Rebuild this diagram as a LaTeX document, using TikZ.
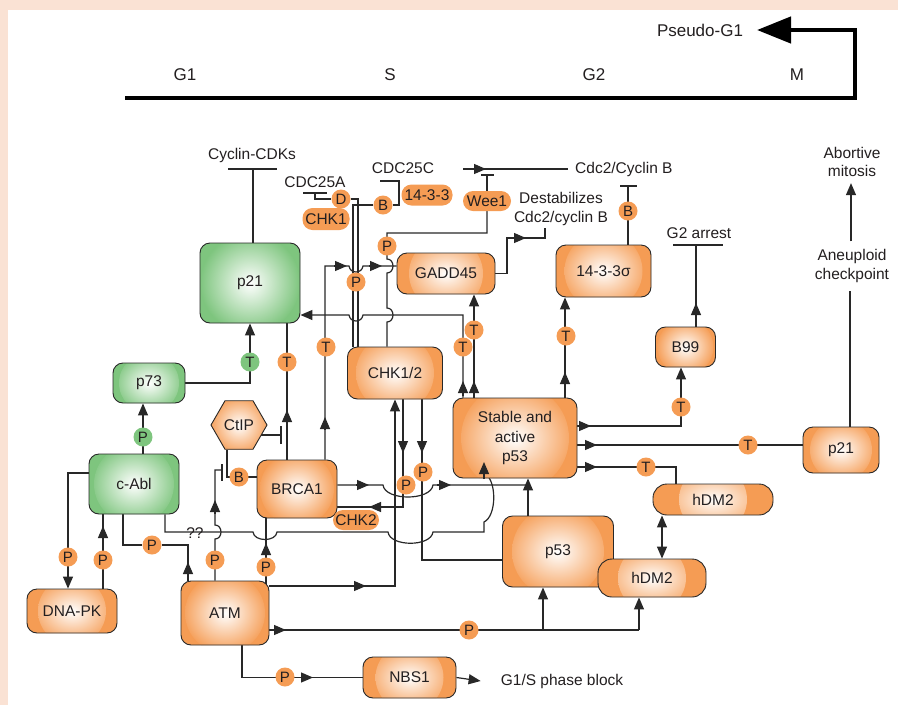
\documentclass[tikz,border=0pt]{standalone}
\usepackage{fontspec}
\setmainfont{Liberation Sans}
\usetikzlibrary{arrows.meta,shapes.geometric}
\pgfdeclarelayer{bgl}
\pgfdeclarelayer{lns}
\pgfsetlayers{bgl,lns,main}
\definecolor{orC}{RGB}{245,156,84}
\definecolor{grC}{RGB}{126,197,126}
\definecolor{lc}{RGB}{40,40,40}
\definecolor{tc}{RGB}{35,31,32}
\definecolor{peach}{RGB}{250,226,212}
\newcommand{\fsA}{\fontsize{15.5}{19.5}\selectfont}
\newcommand{\fsB}{\fontsize{15}{16}\selectfont}
\newcommand{\fsC}{\fontsize{17}{20}\selectfont}
\newcommand{\fsD}{\fontsize{15.5}{18.5}\selectfont}
\begin{document}
\begin{tikzpicture}[x=1pt,y=-1pt,
  ln/.style={draw=lc, line width=1.2pt},
  ar/.style={ln, -{Triangle[length=12pt,width=10pt]}},
  sz/.style 2 args={minimum width=#1pt, minimum height=#2pt},
  shbx/.style 2 args={draw=lc, line width=0.9pt, rounded corners=10pt, fill=#1, inner sep=0pt, align=center, font=\fsA, text=tc,
     path picture={\shade[inner color=white, outer color=#1] (path picture bounding box.center) circle[radius=#2pt];}},
  obx/.style={shbx={orC}{#1}}, obx/.default=36,
  gbx/.style={shbx={grC}{#1}}, gbx/.default=36,
  ol/.style={circle, fill=orC, minimum size=19pt, inner sep=0pt, font=\fsB, text=tc},
  gl/.style={ol, fill=grC},
  el/.style 2 args={rectangle, rounded corners=10pt, fill=orC, inner sep=0pt, minimum width=#1pt, minimum height=#2pt, font=\fsA, text=tc},
  tx/.style={font=\fsD, text=tc, align=center, inner sep=0pt},
  tl/.style={font=\fsC, text=tc, inner sep=0pt}]
\useasboundingbox (0,0) rectangle (898,705);
\begin{pgfonlayer}{bgl}
\fill[peach] (0,0) rectangle (898,705);
\fill[white] (8,10) rectangle (898,705);
\end{pgfonlayer}

% ---------- timeline
\node[tl] (tG1) at (185,75) {G1};
\node[tl] (tS) at (390,75) {S};
\node[tl] (tG2) at (594,75) {G2};
\node[tl] (tM) at (797,75) {M};
\node[tl] (tPG) at (700,30) {Pseudo-G1};

% ---------- boxes
\node[gbx=50, sz={100}{80}] (p21g) at (250,283) {p21};
\node[gbx=30, sz={72}{40}] (p73) at (149,383) {p73};
\node[gbx=40, sz={90}{60}] (cAbl) at (134,484) {c-Abl};
\node[obx=30, sharp corners, regular polygon, regular polygon sides=6, minimum size=56pt] (CtIP) at (239,425) {CtIP};
\node[obx=37, sz={80}{58}] (BRCA1) at (297,489) {BRCA1};
\node[obx=39, sz={95}{52}] (CHK12) at (395,373) {CHK1/2};
\node[obx=37, sz={98}{41}] (GADD) at (446,273.5) {GADD45};
\node[obx=39, sz={95}{52}] (s1433) at (603.5,271) {14-3-3σ};
\node[obx=28, sz={60}{40}] (B99) at (685.5,347) {B99};
\node[obx=54, sz={124}{80}] (sp53) at (515,438) {Stable and\\active\\p53};
\node[obx=31, sz={76}{46}] (p21o) at (841,450) {p21};
\node[obx=34, sz={120}{31}, rounded corners=14pt] (hDMa) at (713,499.5) {hDM2};
\node[obx=46, sz={111}{71}] (p53) at (558,551.5) {p53};
\node[obx=34, sz={108}{38}, rounded corners=14pt] (hDMb) at (652,578) {hDM2};
\node[obx=34, sz={90}{44}] (DNAPK) at (72,611) {DNA-PK};
\node[obx=40, sz={88}{64}] (ATM) at (225,613) {ATM};
\node[obx=34, sz={93}{41}] (NBS1) at (409.5,677.5) {NBS1};

% ---------- small labels
\node[ol] (D) at (341,199) {D};
\node[ol] (B1) at (383,205) {B};
\node[ol] (Pw) at (387,246) {P};
\node[ol] (Pd) at (356,282) {P};
\node[ol] (Tb) at (287,362) {T};
\node[gl] (Tg) at (250,362) {T};
\node[ol] (Tc) at (326,347) {T};
\node[ol] (Tp) at (463,347) {T};
\node[ol] (Tgd) at (474,330) {T};
\node[ol] (Ts) at (566,336) {T};
\node[ol] (B2) at (628,211) {B};
\node[ol] (Tb99) at (681,407) {T};
\node[ol] (Tp21) at (748,445) {T};
\node[ol] (Thd) at (646,467) {T};
\node[ol] (B3) at (239,477) {B};
\node[ol] (Pc1) at (406,485) {P};
\node[ol] (Pc2) at (423,472) {P};
\node[ol] (Pdp1) at (68,557) {P};
\node[ol] (Pdp2) at (103,560) {P};
\node[ol] (Pab) at (152,545) {P};
\node[ol] (Pct) at (215,560) {P};
\node[ol] (Pbr) at (266,567) {P};
\node[ol] (Pnb) at (285,677) {P};
\node[ol] (Pp53) at (469,630) {P};
\node[gl] (Pg) at (143,437) {P};
\node[el={47}{22}] (CHK1) at (326,219) {CHK1};
\node[el={51}{21}] (q1433) at (427,195) {14-3-3};
\node[el={48}{20}] (Wee1) at (487,201) {Wee1};
\node[el={46}{20}] (CHK2) at (356,520) {CHK2};

% ---------- texts
\node[tx] (cyc) at (252,155) {Cyclin-CDKs};
\node[tx] (c25a) at (315,182) {CDC25A};
\node[tx] (c25c) at (403,168) {CDC25C};
\node[tx, anchor=west] (cdcB) at (575,169) {Cdc2/Cyclin B};
\node[tx] (dest) at (561,209) {Destabilizes\\Cdc2/cyclin B};
\node[tx] (g2a) at (699,233) {G2 arrest};
\node[tx] (abm) at (852,162) {Abortive\\mitosis};
\node[tx] (anc) at (852,266) {Aneuploid\\checkpoint};
\node[tx] (g1s) at (562,681) {G1/S phase block};
\node[tx] (qq) at (195,533) {??};

\begin{pgfonlayer}{lns}
% timeline
\draw[black, line width=4.5pt, -{Triangle[length=34pt,width=26pt]}] (125,98) -- (855,98) -- (855,30) -- (757,30);
% p21 -| Cyclin-CDKs
\draw[ln] ([xshift=3pt]p21g.north) -- ++(0,-74);
\draw[ln] (228,169) -- (277,169);
% p73 -> p21
\draw[ar] (p73.east) -| (p21g.south);
% c-Abl -> p73
\draw[ar] ([xshift=9pt]cAbl.north) -- ([xshift=-6pt]p73.south);
% CtIP -| BRCA1 line
\draw[ln] (261,435) -- (281,435);
\draw[ln] (281,426) -- (281,444);
% BRCA1 -> p21
\draw[ln] (BRCA1.north -| Tb) -- (p21g.south -| Tb);
\draw[ar] (287,424) -- (287,410);
% ATM -> P -| CtIP-BRCA1
\draw[ln] (ATM.north -| Pct) -- (215,539) .. controls (223,539) and (223,525) .. (215,525) -- (215,470) -- (222,470);
\draw[ln] (222,464) -- (222,481);
\draw[ar] (215,514) -- (215,500);
% CtIP -> B -> BRCA1
\draw[ln] ([xshift=-12pt]CtIP.south) |- (BRCA1.west |- B3);
% c-Abl -> DNA-PK
\draw[ar] ([yshift=11pt]cAbl.west) -| (DNAPK.north -| Pdp1);
% DNA-PK -> c-Abl
\draw[ln] (DNAPK.north -| Pdp2) -- (cAbl.south -| Pdp2);
\draw[ar] (103,540) -- (103,526);
% ATM -> P -> c-Abl
\draw[ln] ([xshift=-11pt]cAbl.south) |- (Pab) -| ([xshift=-37pt]ATM.north);
\draw[ar] (188,575) -- (188,562);
% ?? line
\draw[ln] ([xshift=31pt]cAbl.south) -- (165,532) -- (253,532) .. controls (254,542) and (276,542) .. (277,532) -- (388,532) .. controls (390,547) and (431,547) .. (433,532) -- (484,532) -- (484,522) .. controls (497,516) and (497,479) .. (484,473) -- (484,466);
% ATM -> P -> BRCA1
\draw[ln] (266,588) -- (BRCA1.south -| Pbr);
\draw[ar] (266,555) -- (266,543);
% BRCA1 -> stable p53
\draw[ln] ([yshift=4pt]BRCA1.east) -- (383,485) .. controls (385,501) and (431,501) .. (433,485) -- (528,485);
\draw[ar] (356,485) -- (369,485);
\draw[ar] (437,485) -- (451,485);
\draw[ar] ([xshift=-30pt]p53.north) -- ([xshift=13pt]sp53.south);
% CHK1/2 -> P -> BRCA1
\draw[ln] ([xshift=8pt]CHK12.south) -- (403,507) -- ([yshift=-18pt]BRCA1.east);
\draw[ar] (403,440) -- (403,453);
\draw[ar] (383,507) -- (369,507);
% CHK1/2 -> P -> p53
\draw[ln] ([xshift=27pt]CHK12.south) |- ([yshift=-8.5pt]p53.west);
\draw[ar] (422,440) -- (422,453);
% ATM -> CHK1/2
\draw[ar] ([yshift=27pt]ATM.east) -| (CHK12.south);
\draw[ar] (352,586) -- (366,586);
% ATM -> P -> p53, hDM2
\coordinate (q1) at (639,630);
\coordinate (q2) at (543,630);
\draw[ln] ([yshift=-17pt]ATM.east) -- (q1);
\draw[ar] (271,630) -- (286,630);
\draw[ar] (q2) -- (p53.south -| q2);
\draw[ar] (q1) -- (hDMb.south -| q1);
% ATM -> P -> NBS1
\draw[ln] ([xshift=17pt]ATM.south) |- (NBS1.west);
\draw[ar] (299,677.5) -- (313,677.5);
\draw[ar] (NBS1.east) -- ([xshift=-20pt]g1s.west);
% BRCA1 -> T -> GADD45
\draw[ln] ([xshift=28pt]BRCA1.north) -- (325,266) -- (349,266) .. controls (350,274) and (362,274) .. (363,266) -- ([yshift=7.5pt]GADD.west);
\draw[ar] (325,429) -- (325,417);
\draw[ar] (334,266) -- (347,266);
\draw[ar] (369,266) -- (382,266);
% stable p53 -> T -> p21
\draw[ar] ([xshift=-52pt]sp53.north) -- (463,315) -- (363,315) .. controls (362,323) and (350,323) .. (349,315) -- ([yshift=-32pt]p21g.east);
\draw[ar] (463,396) -- (463,381);
% stable p53 -> T -> GADD45
\draw[ar] ([xshift=-41pt]sp53.north) -- ([xshift=28pt]GADD.south);
\draw[ar] (474,396) -- (474,381);
% stable p53 -> T -> 14-3-3s
\draw[ar] ([xshift=50pt]sp53.north) -- ([xshift=-38.5pt]s1433.south);
\draw[ar] (565,388) -- (565,372);
% stable p53 -> T -> B99
\draw[ar] ([yshift=12pt]sp53.east) -| ([xshift=-4.5pt]B99.south);
\draw[ar] (578,426) -- (591,426);
% stable p53 -> T -> p21
\draw[ln] ([yshift=-7pt]sp53.east) -- ([yshift=5pt]p21o.west);
\draw[ar] (583,445) -- (597,445);
% stable p53 -> T -> hDM2
\draw[ln] ([yshift=-29pt]sp53.east) -| ([xshift=-37pt]hDMa.north);
\draw[ar] (583,467) -- (597,467);
% hDM2 <-> hDM2
\draw[ln, {Triangle[length=12pt,width=10pt]}-{Triangle[length=12pt,width=10pt]}] ([xshift=-51pt]hDMa.south) -- ([xshift=10pt]hDMb.north);
% B99 -> G2 arrest
\draw[ln] ([xshift=10.5pt]B99.north) -- (696,245);
\draw[ln] (673,245) -- (723,245);
\draw[ar] (696,316) -- (696,303);
% p21 -> aneuploid checkpoint -> abortive mitosis
\draw[ln] ([xshift=9pt]p21o.north) -- ([xshift=-2pt,yshift=-8pt]anc.south);
\draw[ar] ([xshift=-1pt,yshift=8pt]anc.north) -- ([xshift=-1pt,yshift=-6pt]abm.south);
% 14-3-3s -B-| Cdc2/Cyclin B
\draw[ln] ([xshift=24.5pt]s1433.north) -- (628,186);
\draw[ln] (620,186) -- (637,186);
% GADD45 -> destabilizes
\draw[ln] (GADD.east) -- (507,273.5) -- (507,238) -- (545,238) -- (545,228);
\draw[ar] (512,238) -- (526,238);
% CHK1/2 -> P -> Wee1
\draw[ln] ([xshift=-8pt]CHK12.north) -- (387,322) .. controls (395,322) and (395,308) .. (387,308) -- (387,273) .. controls (395,273) and (395,259) .. (387,259) -- (387,233) -- (487,233) -- (Wee1.south);
\draw[ln] (Wee1.north) -- (487,175);
\draw[ln] (481,175) -- (494,175);
% -> Cdc2/Cyclin B
\draw[ln] (463,169) -- ([xshift=-7pt]cdcB.west);
\draw[ar] (472,169) -- (486,169);
% CDC25A / CDC25C
\draw[ln] (303,193) -- (327,193);
\draw[ln] (315,193) -- (315,199) -- (D.west);
\draw[ln] (D.east) -- (358,199) -- ([xshift=-37pt]CHK12.north);
\draw[ln] (380,181) -- (400,181);
\draw[ln] (399,181) -- (399,205) -- (B1.east);
\draw[ln] (B1.west) -- (353,205) -- ([xshift=-42pt]CHK12.north);
\end{pgfonlayer}
\draw[ar] (484,479) -- (484,462);
\end{tikzpicture}
\end{document}
